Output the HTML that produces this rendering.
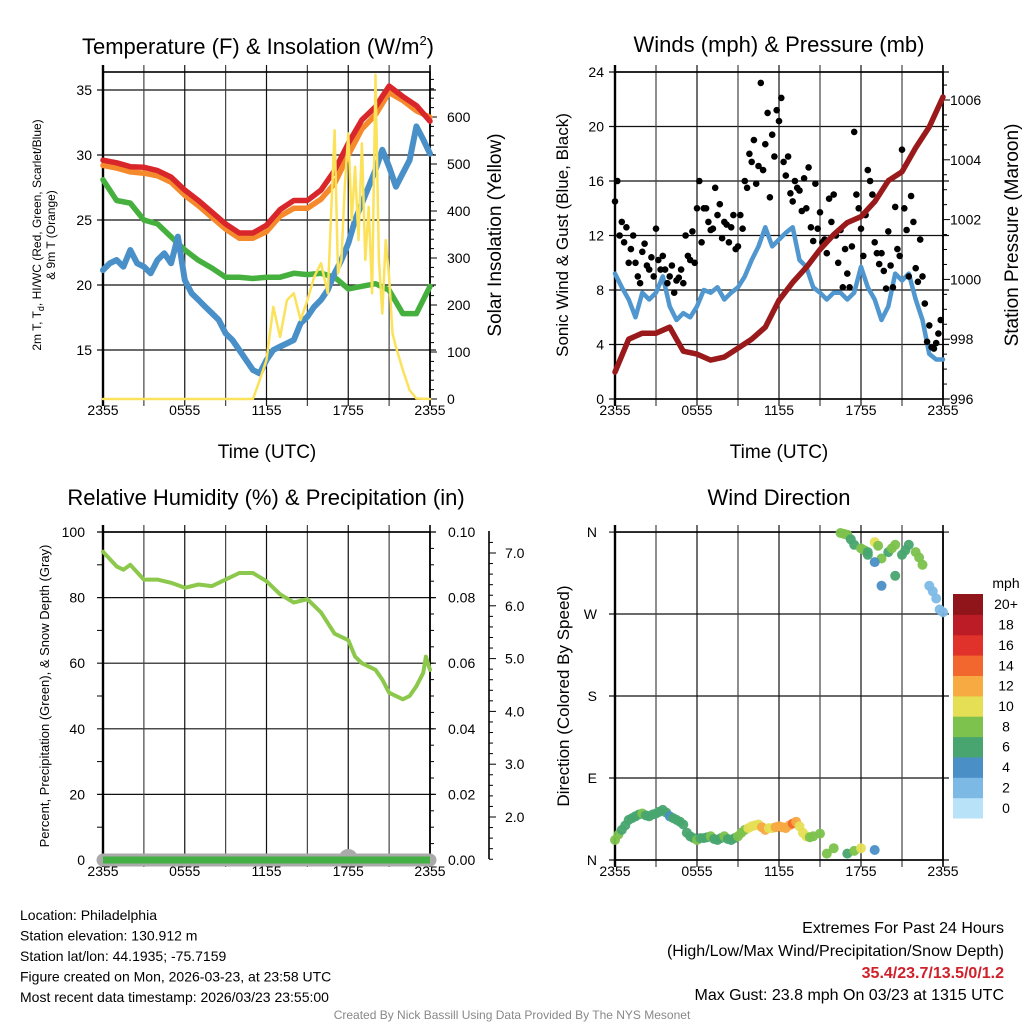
<!DOCTYPE html>
<html><head><meta charset="utf-8">
<style>
html,body{margin:0;padding:0;background:#fff;}
svg{display:block;font-family:"Liberation Sans",Arial,sans-serif;}
</style></head>
<body>
<svg id="c" width="1024" height="1024" viewBox="0 0 1024 1024" xmlns="http://www.w3.org/2000/svg"></svg>
<script>
// ===== data =====
const xTickLabels = ["2355","0555","1155","1755","2355"];
const hoursHourly = [0,1,2,3,4,5,6,7,8,9,10,11,12,13,14,15,16,17,18,19,20,21,22,23,24];
const tempRed = [29.6,29.4,29.1,29.05,28.8,28.3,27.3,26.5,25.6,24.7,24.0,24.0,24.6,25.8,26.5,26.5,27.3,28.8,30.9,32.7,33.7,35.3,34.5,33.8,32.6];
const tempOrange = [29.2,29.0,28.7,28.6,28.4,27.9,26.9,26.1,25.2,24.3,23.6,23.6,24.1,25.3,25.9,25.9,26.6,27.8,30.0,32.0,33.1,34.8,34.2,33.4,32.9];
const dewGreen = [28.1,26.5,26.3,25.0,24.7,23.7,22.7,21.9,21.3,20.6,20.6,20.5,20.6,20.6,20.9,20.8,20.9,20.6,19.7,19.9,20.1,19.6,17.8,17.8,19.9];
const hoursHalf = Array.from({length:49},(_, i)=>i/2);
const tempBlue = [21.15,21.67,21.92,21.41,22.69,21.67,21.41,20.9,21.92,22.44,21.67,23.72,20.38,19.36,18.85,18.33,17.82,17.31,16.28,15.77,15.0,14.23,13.46,13.2,14.23,15.0,15.26,15.51,15.77,17.05,17.56,18.33,18.85,19.62,20.9,21.92,23.2,25.0,26.28,27.56,28.85,30.4,29.1,27.56,28.6,29.6,32.2,31.2,30.1];
const solarHours = [0,11,11.5,12,12.5,13,13.5,14,14.5,15,15.5,16,16.5,17,17.25,17.5,17.75,18,18.25,18.5,18.75,19,19.25,19.5,19.75,20,20.25,20.5,20.75,21,21.25,21.5,22,22.5,23,24];
const solarValues = [0,0,40,83,196,132,210,225,168,210,260,289,225,572,267,296,452,565,381,494,338,544,296,409,225,690,296,182,338,260,140,111,62,19,1,0];
const windSustained = [9.2,8.2,7.3,6.0,7.8,7.3,7.8,9.0,6.8,5.8,6.3,6.0,6.8,8.0,7.8,8.2,7.3,7.8,8.2,9.0,10.2,11.2,12.6,11.2,11.7,12.2,12.6,10.2,9.7,8.2,7.8,7.3,7.8,7.8,7.3,7.8,9.7,8.2,7.3,5.8,6.8,9.2,8.7,9.2,7.3,5.8,3.3,2.9,2.9];
const windGust = [14.5,16,12,13,11.5,12.6, 10,11,12,10,9,8.5, 10.8,11.4,9.8,9.5,10.4,9, 12.5,10.2,9.5,10.5,9.5,8.5, 9,9.8,7.8,8.7,8.9,9.5, 8.5,12,10.5,10.2,12.3,10, 14,16,11.5,14,14,13, 12.4,12.5,15.5,13.5,14.3,11.8, 13,12.8,11.5,12.6,13.5,11, 11.2,13.5,12.5,16,15.5,18, 17.4,19,15.8,17.1,23.2,16.8, 18.7,21,14.8,19.4,17.8,21.2, 20.4,22.1,17.4,16.4,17.8,15.1, 14.5,16,15.5,15.3,13.8,16.2, 14,17,12.6,11.6,15.8,12.5, 13.7,11.5,11.7,10.7,14.7,13, 15,12,10,12.4,8.2,11, 9.2,8.2,11.2,19.6,15,14, 12.5,10.5,13.5,16.8,16,15, 11.5,10.7,9.9,10.7,9.4,8.1, 12.3,9.8,8.2,14.1,11,10.5, 18.3,14,12.4,9,14.9,13, 9.6,8.6,11.7,9,7,4.2, 5.4,3.8,3.7,4.1,4.8,5.8];
const pressure = [996.9,998.0,998.2,998.2,998.4,997.6,997.5,997.3,997.4,997.7,998.0,998.4,999.3,999.9,1000.4,1001.0,1001.5,1001.9,1002.1,1002.6,1003.3,1003.6,1004.4,1005.1,1006.1];
const rhHours = [0,1,1.5,2,3,4,5,6,7,8,9,10,11,12,13,14,15,16,17,18,18.5,19,20,20.5,21,22,22.5,23,23.5,23.7,24];
const rhValues = [94,89.5,88.5,90,85.5,85.5,84.5,83,84,83.5,85.5,87.5,87.5,85,81,78.5,79.5,75.5,69,67,62,60,58,55,51,49,50,53,57,62,58];
const dirHours = [0,0.25,0.5,0.75,1,1.25,1.5,1.75,2,2.25,2.5,2.75,3,3.25,3.5,3.75,4,4.25,4.5,4.75,5,5.25,5.5,5.75,6,6.25,6.5,6.75,7,7.25,7.5,7.75,8,8.25,8.5,8.75,9,9.25,9.5,9.75,10,10.25,10.5,10.75,11,11.25,11.5,11.75,12,12.25,12.5,12.75,13,13.25,13.5,13.75,14,14.25,14.5,15,15.5,16,17,17.5,18,19, 16.5,16.75,17,17.25,17.5,18,18.25,18.5,19,19.25,19.5,20,20.25,20.5,21,21.25,21.5,22,22.25,22.5,23,23.25,23.5,23.75,24,19.5,20.5,19,18.5];
const dirDegrees = [22,28,33,38,44,46,48,50,51,49,48,50,51,53,55,52,48,46,44,42,39,30,26,24,22,24,24,25,26,23,22,24,26,23,22,24,26,30,33,35,37,38,39,36,33,35,35,36,37,36,35,38,40,42,37,30,26,25,26,29,7,13,7,10,13,11, 359,358,357,352,346,342,340,338,349,345,331,338,342,346,335,340,346,338,332,324,301,295,287,275,272,301,312,327,335];
const dirSpeeds = [9,8,7,7,7,6,6,6,8,7,6,6,7,7,6,6,5,7,7,6,6,7,7,7,8,7,7,7,8,7,7,7,8,7,7,7,8,8,9,10,10,11,11,12,12,11,11,12,13,12,12,13,14,12,11,10,10,9,9,8,9,8,7,8,10,4, 8,8,9,7,7,8,8,7,10,9,8,7,8,8,6,7,7,8,9,9,2,2,2,2,2,4,6,4,7];
const speedLevels = ["0","2","4","6","8","10","12","14","16","18","20+"];
const speedColors = ["#b8e2f8","#7db9e5","#4a8fc6","#48a56f","#7cc24c","#e5df55","#f7a942","#f2672d","#e0322a","#bb1c25","#8f151b"];

// ===== helpers =====
const svg = document.getElementById('c');
const NS = 'http://www.w3.org/2000/svg';
function mk(tag, attrs, parent){
  const el = document.createElementNS(NS, tag);
  for (const k in attrs) el.setAttribute(k, attrs[k]);
  (parent||svg).appendChild(el);
  return el;
}
function txt(s, x, y, size, anchor, parent, extra){
  const el = mk('text', Object.assign({x:x, y:y, 'font-size':size, 'text-anchor':anchor||'start', fill:'#000'}, extra||{}), parent);
  el.textContent = s;
  return el;
}
function xScale(L,R){ return t => L + (R-L)*t/24; }
function poly(xs, ys, xf, yf, color, w, name){
  const pts = xs.map((t,i)=> xf(t).toFixed(1)+','+yf(ys[i]).toFixed(1)).join(' ');
  const el = mk('polyline',{points:pts, fill:'none', stroke:color, 'stroke-width':w, 'stroke-linejoin':'round', 'stroke-linecap':'round'});
  
  
  return el;
}
function frame(L,R,T,B,name){
  const g = mk('g',{});
  
  
  const xf = xScale(L,R);
  for (let i=1;i<8;i++){
    const x = xf(i*3);
    const l = mk('line',{x1:x,y1:T-7,x2:x,y2:B+7,stroke:(i%2? '#444':'#111'),'stroke-width':1.2},g);
    
    
  }
  const r = mk('rect',{x:L,y:T,width:R-L,height:B-T,fill:'none',stroke:'#000','stroke-width':1.6},g);
  
  
  mk('line',{x1:L,y1:T-7,x2:L,y2:B+7,stroke:'#000','stroke-width':2.4},g);
  mk('line',{x1:R,y1:T-7,x2:R,y2:B+7,stroke:'#000','stroke-width':1.6},g);
  xTickLabels.forEach((s,i)=>{
    const t = txt(s, xf(i*6), B+16, 14, 'middle', g);
    
    
  });
  return g;
}
function hgrid(L,R,y,ext){
  const l = mk('line',{x1:L-ext,y1:y,x2:R+ext,y2:y,stroke:'#111','stroke-width':1.2});
  
  
}
function rotText(s, x, y, size, name, rot){
  const el = txt(s, x, y, size, 'middle', svg, {transform:'rotate('+(rot||-90)+' '+x+' '+y+')'});
  
  
  return el;
}

// ===== Panel 1: Temperature =====
(function(){
  const L=103,R=430,T=72,B=399;
  const xf = xScale(L,R);
  const yT = v => 350 - (v-15)*13;
  const yS = w => 399 - w*0.47;
  [15,20,25,30,35].forEach(v=>{
    hgrid(L,R,yT(v),6);
    const t = txt(String(v), L-11, yT(v)+5, 14, 'end');
    
    
  });
  for (let w=0; w<=680; w+=20){
    mk('line',{x1:R,y1:yS(w),x2:R+(w%100===0?7:4),y2:yS(w),stroke:'#000','stroke-width':1});
  }
  [0,100,200,300,400,500,600].forEach(w=>{
    const t = txt(String(w), R+17, yS(w)+5, 14, 'start');
    
    
  });
  frame(L,R,T,B,'temperature-plot-frame');
  poly(hoursHourly, dewGreen, xf, yT, '#46b03f', 5.5, 'dewpoint-line');
  poly(hoursHalf, tempBlue, xf, yT, '#4a90c8', 6, 'wind-chill-line');
  poly(hoursHourly, tempOrange, xf, yT, '#f58a2c', 5.5, 'temp-9m-line');
  poly(hoursHourly, tempRed, xf, yT, '#d8262a', 5.5, 'temp-2m-line');
  poly(solarHours, solarValues, xf, yS, '#fbe25a', 2.5, 'solar-insolation-line');
  const ti = txt('Temperature (F) & Insolation (W/m', 258, 54, 22, 'middle');
  
  
  const ts = mk('tspan',{'font-size':13,dy:-9}, ti); ts.textContent='2';
  const tc = mk('tspan',{dy:9}, ti); tc.textContent=')';
  const a = rotText('2m T, T', 41, 235, 12, 'temperature-y-title');
  a.textContent='';
  const s1 = mk('tspan',{},a); s1.textContent='2m T, T';
  const s2 = mk('tspan',{'font-size':9,dy:3},a); s2.textContent='d';
  const s3 = mk('tspan',{dy:-3},a); s3.textContent=', HI/WC (Red, Green, Scarlet/Blue)';
  rotText('& 9m T (Orange)', 55, 235, 12, 'temperature-y-title-2');
  rotText('Solar Insolation (Yellow)', 501, 235, 19, 'solar-y-title');
  const xt = txt('Time (UTC)', 267, 458, 19, 'middle');
  
  
})();

// ===== Panel 2: Winds & Pressure =====
(function(){
  const L=615,R=943,T=72,B=399;
  const xf = xScale(L,R);
  const yW = v => 399 - v*13.625;
  const yP = p => 399 - (p-996)*29.9;
  [0,4,8,12,16,20,24].forEach(v=>{
    hgrid(L,R,yW(v),6);
    const t = txt(String(v), L-11, yW(v)+5, 14, 'end');
    
    
  });
  for (let p=996; p<=1006.6; p+=0.5){
    mk('line',{x1:R,y1:yP(p),x2:R+(Math.abs(p%2)<0.01?7:4),y2:yP(p),stroke:'#000','stroke-width':1});
  }
  [996,998,1000,1002,1004,1006].forEach(p=>{
    const t = txt(String(p), R+7, yP(p)+5, 14, 'start');
    
    
  });
  frame(L,R,T,B,'winds-plot-frame');
  poly(hoursHalf, windSustained, xf, yW, '#5097d0', 4.5, 'sustained-wind-line');
  windGust.forEach((g,i)=>{
    const c = mk('circle',{cx:xf(i/6).toFixed(1), cy:yW(g).toFixed(1), r:3.3, fill:'#000'});
    
    
  });
  poly(hoursHourly, pressure, xf, yP, '#9a1a1c', 5.5, 'pressure-line');
  const ti = txt('Winds (mph) & Pressure (mb)', 779, 52, 22, 'middle');
  
  
  rotText('Sonic Wind & Gust (Blue, Black)', 568, 235, 17, 'wind-y-title');
  rotText('Station Pressure (Maroon)', 1018, 235, 19, 'pressure-y-title');
  const xt = txt('Time (UTC)', 779, 458, 19, 'middle');
  
  
})();

// ===== Panel 3: RH & Precip =====
(function(){
  const L=103,R=430,T=532,B=860;
  const xf = xScale(L,R);
  const yR = v => 860 - v*3.28;
  const ySn = s => 817 - (s-2)*52.8;
  [0,20,40,60,80,100].forEach(v=>{
    if (v>0 && v<100) hgrid(L,R,yR(v),6);
    else mk('line',{x1:L-6,y1:yR(v),x2:R+6,y2:yR(v),stroke:'#000','stroke-width':1.2});
    const t = txt(String(v), L-18, yR(v)+5, 14, 'end');
    
    
    const t2 = txt((v/1000).toFixed(2), R+18, yR(v)+5, 14, 'start');
    
    
  });
  for (let v=10; v<100; v+=20) mk('line',{x1:L-6,y1:yR(v),x2:L,y2:yR(v),stroke:'#000','stroke-width':1});
  for (let v=5; v<100; v+=5) mk('line',{x1:R,y1:yR(v),x2:R+4,y2:yR(v),stroke:'#000','stroke-width':1});
  frame(L,R,T,B,'rh-plot-frame');
  const ax = mk('line',{x1:489,y1:531,x2:489,y2:859,stroke:'#000','stroke-width':1.6});
  
  
  for (let s=1.2; s<=7.4; s+=0.2){
    mk('line',{x1:489,y1:ySn(s),x2:489+(Math.abs(s-Math.round(s))<0.01?7:4),y2:ySn(s),stroke:'#000','stroke-width':1});
  }
  [2,3,4,5,6,7].forEach(s=>{
    const t = txt(s.toFixed(1), 505, ySn(s)+5, 14, 'start');
    
    
  });
  const sn = mk('line',{x1:L,y1:B,x2:R,y2:B,stroke:'#aaa','stroke-width':13,'stroke-linecap':'round'});
  
  
  mk('ellipse',{cx:xf(18),cy:B-3,rx:9,ry:8,fill:'#aaa'});
  const pr = mk('line',{x1:L,y1:B,x2:R,y2:B,stroke:'#43b043','stroke-width':7});
  
  
  poly(rhHours, rhValues, xf, yR, '#8cc84b', 4, 'rh-line');
  const ti = txt('Relative Humidity (%) & Precipitation (in)', 266, 505, 22, 'middle');
  
  
  rotText('Percent, Precipitation (Green), & Snow Depth (Gray)', 49, 696, 13, 'rh-y-title');
})();

// ===== Panel 4: Wind Direction =====
(function(){
  const L=615,R=943,T=532,B=860;
  const xf = xScale(L,R);
  const yD = d => 860 - d*0.911;
  const dl = ['N','E','S','W','N'];
  [0,90,180,270,360].forEach((d,i)=>{
    hgrid(L,R,yD(d),6);
    const t = txt(dl[i], L-18, yD(d)+5, 14, 'end');
    
    
  });
  frame(L,R,T,B,'direction-plot-frame');
  dirHours.forEach((h,i)=>{
    const ci = Math.min(10, Math.floor(dirSpeeds[i]/2));
    const c = mk('circle',{cx:xf(h).toFixed(1), cy:yD(dirDegrees[i]).toFixed(1), r:5, fill:speedColors[ci], 'fill-opacity':0.95});
    
    
  });
  const cb = mk('g',{});
  
  
  const h = 224/11;
  speedLevels.forEach((s,i)=>{
    const y = 818 - (i+1)*h;
    const r = mk('rect',{x:953,y:y.toFixed(1),width:30,height:(h+0.5).toFixed(1),fill:speedColors[i]},cb);
    
    
    const t = txt(s, 1006, y+h/2+5, 14, 'middle', cb);
    
    
  });
  txt('mph', 1006, 588, 14, 'middle', cb);
  const ti = txt('Wind Direction', 779, 505, 22, 'middle');
  
  
  rotText('Direction (Colored By Speed)', 569, 696, 17, 'direction-y-title');
})();

// ===== Footer text =====
(function(){
  const left = ['Location: Philadelphia','Station elevation: 130.912 m','Station lat/lon: 44.1935; -75.7159','Figure created on Mon, 2026-03-23, at 23:58 UTC','Most recent data timestamp: 2026/03/23 23:55:00'];
  left.forEach((s,i)=>{
    const t = txt(s, 20, 920+i*20.5, 14, 'start');
    
    
  });
  const r1 = txt('Extremes For Past 24 Hours', 1004, 933, 16, 'end');
  
  
  const r2 = txt('(High/Low/Max Wind/Precipitation/Snow Depth)', 1004, 956, 16, 'end');
  
  
  const r3 = txt('35.4/23.7/13.5/0/1.2', 1004, 978, 16, 'end', svg, {fill:'#d0202a','font-weight':'bold'});
  
  
  const r4 = txt('Max Gust: 23.8 mph On 03/23 at 1315 UTC', 1004, 1000, 16, 'end');
  
  
  const cr = txt('Created By Nick Bassill Using Data Provided By The NYS Mesonet', 512, 1019, 12, 'middle', svg, {fill:'#888'});
  
  
})();
</script>
</body></html>
